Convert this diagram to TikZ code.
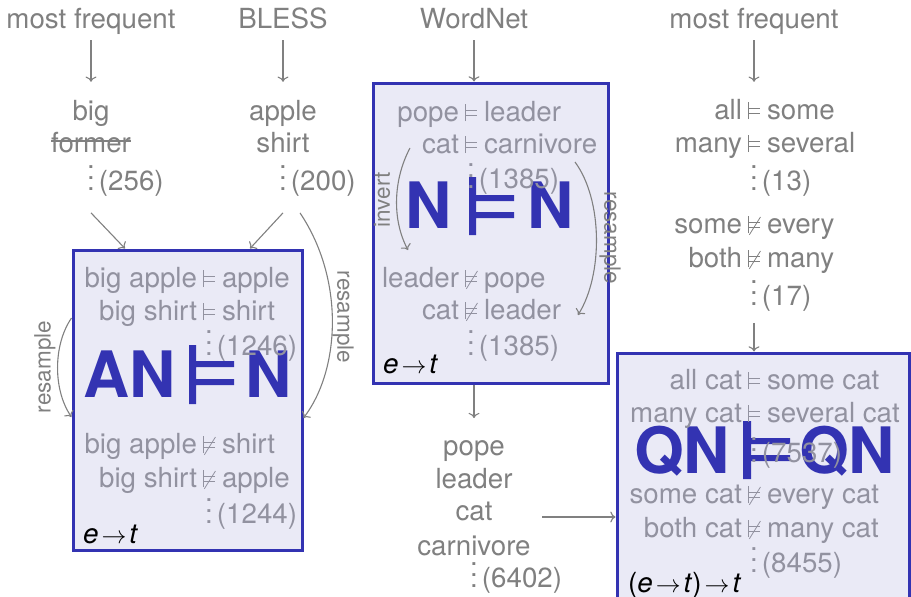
\documentclass[tikz,border=0pt]{standalone}
\usepackage{fontspec}
\setmainfont{TeX Gyre Heros}
\usepackage{graphicx}
\usetikzlibrary{arrows.meta}
\definecolor{bxb}{RGB}{51,51,178}
\definecolor{bxf}{RGB}{234,234,246}
\definecolor{gtx}{RGB}{128,128,128}
\definecolor{itx}{RGB}{146,146,160}
\newcommand\fsm{\fontsize{27.7}{33}\selectfont}
\newcommand\fsl{\fontsize{22.5}{27}\selectfont}
\newcommand\fsb{\fontsize{64}{64}\selectfont\bfseries}
\newcommand\vdd{\smash{\vbox{\baselineskip11pt\lineskiplimit0pt\hbox{.}\hbox{.}\hbox{.}}}}
\newcommand\cnt[1]{\makebox[0pt]{\vdd}\makebox[0pt][l]{\hspace{8pt}#1}}
\newcommand\smod{\rlap{\rule{0.9pt}{17pt}}\rlap{\raisebox{5pt}{\rule{12pt}{0.9pt}}}\raisebox{10.5pt}{\rule{12pt}{0.9pt}}}
\newcommand\snmod{\rlap{\smod}\rlap{\hspace{1pt}\raisebox{-2pt}{\rotatebox{58}{\rule{21pt}{0.8pt}}}}\hspace{12pt}}
\newcommand\ent[3]{\makebox[0pt][r]{#1\hspace{12pt}}\makebox[0pt]{#2}\makebox[0pt][l]{\hspace{13pt}#3}}
\newcommand\eto{\textit{e}\kern3pt$\rightarrow$\kern3pt\textit{t}}
\begin{document}
\begin{tikzpicture}[x=1pt,y=-1pt,
  lbl/.style={inner sep=0pt, outer sep=0pt, anchor=base, font=\fsm, text=gtx},
  inl/.style={lbl, text=itx},
  side/.style={inner sep=0pt, font=\fsl, text=gtx},
  big/.style={inner sep=0pt, anchor=base west, font=\fsb, text=bxb},
  box/.style={draw=bxb, fill=bxf, line width=3pt, inner sep=0pt},
  arr/.style={draw=gtx, line width=1.1pt, -{To[scale=1.3]}},
  typ/.style={inner sep=0pt, anchor=base west, font=\fsm, text=black}]
\useasboundingbox (0,0) rectangle (911,597);

% boxes
\node[box, minimum width=229pt, minimum height=300pt] (b1) at (187.5,400) {};
\node[box, minimum width=235pt, minimum height=300pt] (b2) at (490.5,233) {};
\node[box, minimum width=292pt, minimum height=320pt] (b3) at (763,513) {};

% big labels
\node[big] (bl1a) at (83,397) {AN};
\node[big] (bl1b) at (245,397) {N};
\fill[bxb] (189,345) rectangle (196,404) (196,361) rectangle (234,367) (196,379) rectangle (234,385);
\node[big] (bl2a) at (405,228) {N};
\node[big] (bl2b) at (527,228) {N};
\fill[bxb] (469,177) rectangle (476,235) (476,195) rectangle (514,201) (476,212) rectangle (514,218);
\node[big] (bl3a) at (634,473) {QN};
\node[big] (bl3b) at (799,473) {QN};
\fill[bxb] (743,421) rectangle (751,479) (751,438) rectangle (790,444) (751,455) rectangle (790,461);

% top row
\node[lbl] (mf1) at (91,28) {most frequent};
\node[lbl] (bless) at (283,28) {BLESS};
\node[lbl] (wn) at (474,28) {WordNet};
\node[lbl] (mf2) at (754,28) {most frequent};

% left columns
\node[lbl] (big) at (91,120) {big};
\node[lbl] (former) at (91,152) {former};
\draw[gtx, line width=1.2pt] ([yshift=11pt]former.base west) -- ([yshift=11pt]former.base east);
\node[lbl] (c256) at (91,190) {\cnt{(256)}};
\node[lbl] (apple) at (283,120) {apple};
\node[lbl] (shirt) at (283,152) {shirt};
\node[lbl] (c200) at (283,190) {\cnt{(200)}};

% box 1
\node[inl] (b1a) at (209,287) {\ent{big apple}{\smod}{apple}};
\node[inl] (b1b) at (209,320) {\ent{big shirt}{\smod}{shirt}};
\node[inl] (b1c) at (209,355) {\cnt{(1246)}};
\node[inl] (b1d) at (209,453) {\ent{big apple}{\snmod}{shirt}};
\node[inl] (b1e) at (209,487) {\ent{big shirt}{\snmod}{apple}};
\node[inl] (b1f) at (209,523) {\cnt{(1244)}};
\node[typ] (b1t) at (83,543) {\eto};

% box 2
\node[inl] (b2a) at (471,121) {\ent{pope}{\smod}{leader}};
\node[inl] (b2b) at (471,153) {\ent{cat}{\smod}{carnivore}};
\node[inl] (b2c) at (471,188) {\cnt{(1385)}};
\node[inl] (b2d) at (471,287) {\ent{leader}{\snmod}{pope}};
\node[inl] (b2e) at (471,319) {\ent{cat}{\snmod}{leader}};
\node[inl] (b2f) at (471,355) {\cnt{(1385)}};
\node[typ] (b2t) at (383,373) {\eto};

% right column
\node[lbl] (q1) at (754,119) {\ent{all}{\smod}{some}};
\node[lbl] (q2) at (754,152) {\ent{many}{\smod}{several}};
\node[lbl] (c13) at (754,190) {\cnt{(13)}};
\node[lbl] (q3) at (754,233) {\ent{some}{\snmod}{every}};
\node[lbl] (q4) at (754,267) {\ent{both}{\snmod}{many}};
\node[lbl] (c17) at (754,305) {\cnt{(17)}};

% box 3
\node[inl] (b3a) at (754,389) {\ent{all cat}{\smod}{some cat}};
\node[inl] (b3b) at (754,422) {\ent{many cat}{\smod}{several cat}};
\node[inl] (b3c) at (754,462) {\cnt{(7537)}};
\node[inl] (b3d) at (754,503) {\ent{some cat}{\snmod}{every cat}};
\node[inl] (b3e) at (754,537) {\ent{both cat}{\snmod}{many cat}};
\node[inl] (b3f) at (754,572) {\cnt{(8455)}};
\node[typ] (b3t) at (628,592) {(\textit{e}\kern3pt$\rightarrow$\kern3pt\textit{t})\kern3pt$\rightarrow$\kern3pt\textit{t}};

% bottom list
\node[lbl] (w1) at (474,455) {pope};
\node[lbl] (w2) at (474,488) {leader};
\node[lbl] (w3) at (474,520) {cat};
\node[lbl] (w4) at (474,555) {carnivore};
\node[lbl] (c6402) at (474,587) {\cnt{(6402)}};

% connectors
\coordinate (iv1) at (410,148);
\coordinate (iv2) at (408,250);
\coordinate (rs1) at (575,162);
\coordinate (rs2) at (578,315);
\coordinate (lst) at (542,517);
\draw[arr] ([yshift=-6pt]mf1.south) -- ([yshift=18pt]big.north);
\draw[arr] ([yshift=-12pt]bless.south) -- ([yshift=18pt]apple.north);
\draw[arr] ([yshift=-12pt]wn.south) -- (wn |- b2.north);
\draw[arr] ([yshift=-6pt]mf2.south) -- ([yshift=17pt]q1.north);
\draw[arr] ([yshift=-17pt]c256.south) -- ([xshift=-62.5pt]b1.north);
\draw[arr] ([yshift=-17pt]c200.south) -- ([xshift=62.5pt]b1.north);
\draw[arr] ([xshift=17pt,yshift=-17pt]c200.south) .. controls (345,280) and (340,370) .. ([yshift=-18pt]b1.east);
\draw[arr] ([yshift=82pt]b1.west) .. controls (53,345) and (53,390) .. ([yshift=-17pt]b1.west);
\draw[arr] (iv1) .. controls (393,180) and (392,220) .. (iv2);
\draw[arr] (rs1) .. controls (603,200) and (603,275) .. (rs2);
\draw[arr] (w1 |- b2.south) -- ([yshift=22pt]w1.north);
\draw[arr] ([yshift=-12pt]c17.south) -- (c17 |- b3.north);
\draw[arr] (lst) -- (lst -| b3.west);

% side labels
\node[side, rotate=90] (l1) at (45,367) {resample};
\node[side, rotate=-90] (l2) at (343,317) {resample};
\node[side, rotate=90] (l3) at (382,200) {invert};
\node[side, rotate=-90] (l4) at (610,238) {resample};
\end{tikzpicture}
\end{document}
